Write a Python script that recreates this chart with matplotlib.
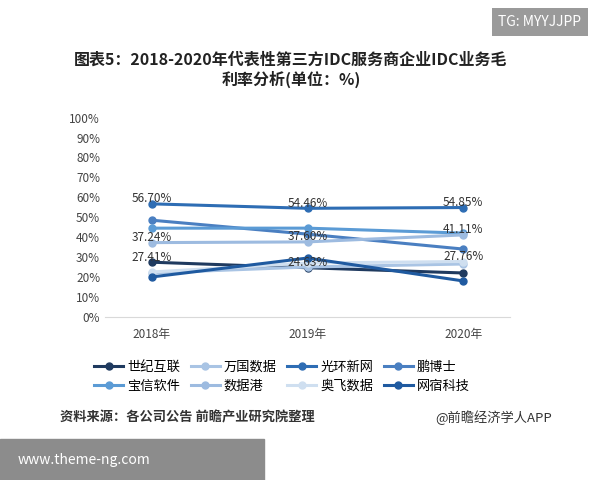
import matplotlib
matplotlib.use('Agg')
import matplotlib.pyplot as plt
import matplotlib.ticker as mticker

plt.rcParams['font.family'] = ['Noto Sans CJK SC', 'DejaVu Sans']

years = ['2018年', '2019年', '2020年']
names = ['世纪互联', '万国数据', '光环新网', '鹏博士', '宝信软件', '数据港', '奥飞数据', '网宿科技']
colors = ['#1f3a5f', '#a9c4e4', '#2e6db4', '#4a7fc1', '#5b9bd5', '#9dbbe0', '#cfdff0', '#1f5aa0']
shijihulian = [27.41, 24.63, 22.0]
wanguo = [22.0, 25.0, 26.5]
guanghuan = [56.70, 54.46, 54.85]
pengboshi = [48.5, 41.5, 34.0]
baoxin = [44.5, 44.5, 42.0]
shujugang = [37.24, 37.60, 41.11]
aofei = [22.5, 27.0, 27.76]
wangsu = [20.0, 29.5, 18.0]
series = [shijihulian, wanguo, guanghuan, pengboshi, baoxin, shujugang, aofei, wangsu]

fig = plt.figure(figsize=(6, 4.8), dpi=100)
ax = fig.add_axes([0.175, 0.34, 0.675, 0.415])
x = range(len(years))
for name, vals, c in zip(names, series, colors):
    ax.plot(x, vals, color=c, lw=2.2, marker='o', ms=5, label=name)

labels = [(0, 56.70), (1, 54.46), (2, 54.85), (0, 37.24), (1, 37.60), (2, 41.11), (0, 27.41), (1, 24.63), (2, 27.76)]
for xi, v in labels:
    ax.text(xi, v + 2.5, f'{v:.2f}%', ha='center', va='center', fontsize=8.5, color='#333333')

ax.set_xlim(-0.3, 2.3)
ax.set_ylim(0, 100)
ax.yaxis.set_major_locator(mticker.MultipleLocator(10))
ax.yaxis.set_major_formatter(mticker.FuncFormatter(lambda v, p: f'{v:.0f}%'))
ax.set_xticks(list(x))
ax.set_xticklabels(years)
ax.tick_params(length=0, labelsize=8.5, colors='#444444')
ax.tick_params(axis='x', pad=8)
for s in ['top', 'right', 'left']:
    ax.spines[s].set_visible(False)
ax.spines['bottom'].set_color('#d9d9d9')

handles, labs = ax.get_legend_handles_labels()
order = [0, 4, 1, 5, 2, 6, 3, 7]
fig.legend([handles[i] for i in order], [labs[i] for i in order], loc='center',
           bbox_to_anchor=(0.47, 0.215), ncol=4, frameon=False, fontsize=9.5,
           handlelength=2.2, columnspacing=0.8, handletextpad=0.3)

fig.text(0.485, 0.855, '图表5：2018-2020年代表性第三方IDC服务商企业IDC业务毛\n利率分析(单位：%)',
         ha='center', va='center', fontsize=11.5, fontweight='bold', color='#222222', linespacing=1.2)
fig.text(0.9, 0.955, 'TG: MYYJJPP', ha='center', va='center', fontsize=10, color='white',
         bbox=dict(boxstyle='square,pad=0.5', fc='#9a9a9a', ec='none'))
fig.text(0.1, 0.13, '资料来源：各公司公告 前瞻产业研究院整理', fontsize=9.5, fontweight='bold', color='#333333', va='center')
fig.text(0.92, 0.13, '@前瞻经济学人APP', fontsize=9.5, color='#333333', va='center', ha='right')
fig.add_artist(plt.Rectangle((0, 0), 0.44, 0.085, transform=fig.transFigure, color='#8c8c8c'))
fig.text(0.03, 0.042, 'www.theme-ng.com', fontsize=10, color='white', va='center')

fig.savefig('out.png', dpi=100)
